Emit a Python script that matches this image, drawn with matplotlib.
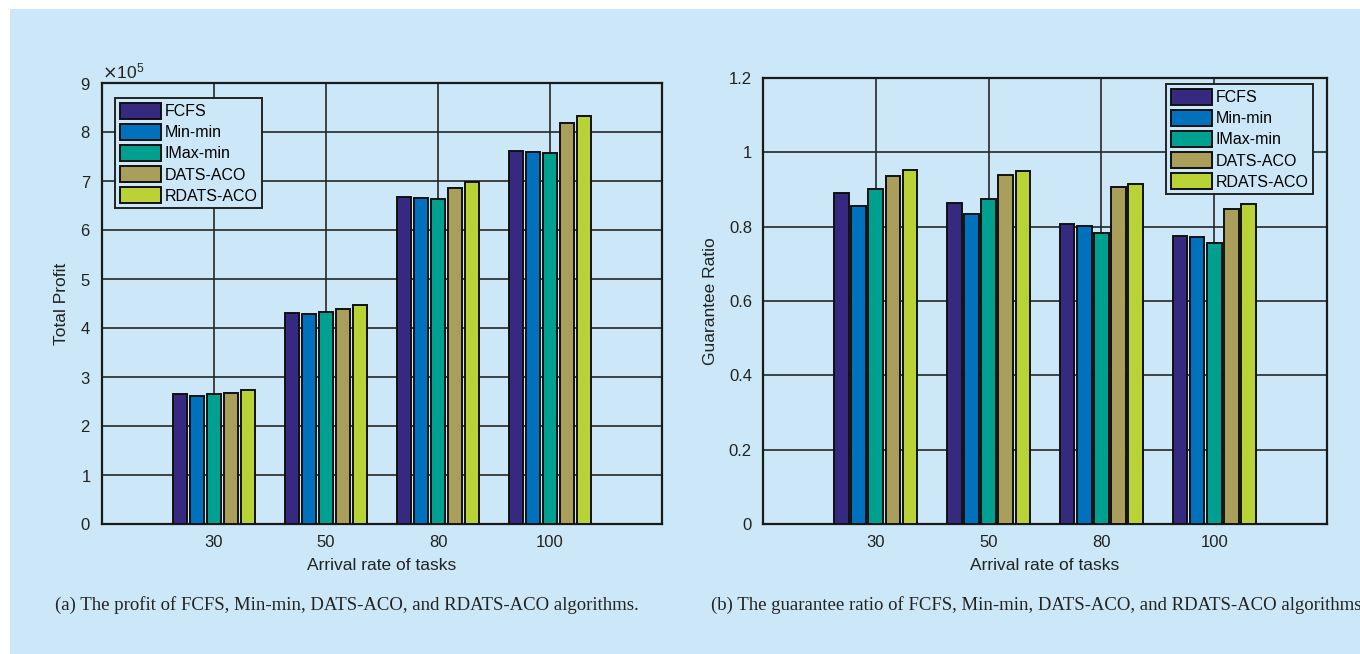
import numpy as np
import matplotlib
matplotlib.use("Agg")
import matplotlib.pyplot as plt

# data
rates = ["30", "50", "80", "100"]
algos = ["FCFS", "Min-min", "IMax-min", "DATS-ACO", "RDATS-ACO"]
colors = ["#352a80", "#0072bd", "#00a090", "#aa9f5a", "#b9d235"]

profit_fcfs = [2.645e5, 4.30e5, 6.68e5, 7.61e5]
profit_minmin = [2.62e5, 4.28e5, 6.66e5, 7.59e5]
profit_imaxmin = [2.645e5, 4.32e5, 6.64e5, 7.57e5]
profit_dats = [2.665e5, 4.38e5, 6.86e5, 8.19e5]
profit_rdats = [2.73e5, 4.47e5, 6.98e5, 8.33e5]

ratio_fcfs = [0.890, 0.865, 0.807, 0.776]
ratio_minmin = [0.855, 0.834, 0.801, 0.772]
ratio_imaxmin = [0.901, 0.875, 0.783, 0.757]
ratio_dats = [0.935, 0.940, 0.908, 0.848]
ratio_rdats = [0.953, 0.950, 0.915, 0.861]

profit = [profit_fcfs, profit_minmin, profit_imaxmin, profit_dats, profit_rdats]
ratio = [ratio_fcfs, ratio_minmin, ratio_imaxmin, ratio_dats, ratio_rdats]

bg = "#cce8f8"
plt.rcParams["font.family"] = ["Liberation Sans", "DejaVu Sans"]

W, H = 1360, 654
fig = plt.figure(figsize=(W / 100, H / 100), dpi=100)
fig.patch.set_facecolor("white")
# light blue panel, white strip on top and left
fig.patches.append(plt.Rectangle((10 / W, 0), 1, 1 - 9 / H, transform=fig.transFigure,
                                 facecolor=bg, edgecolor="none", zorder=-10))


def make_axes(left, top, right, bottom):
    return fig.add_axes([left / W, 1 - bottom / H, (right - left) / W, (bottom - top) / H])


def draw(ax, series, ylim, yticks, ylabel, legend_loc, anchor):
    ax.set_facecolor("none")
    x = np.arange(1, len(rates) + 1)
    step, width = 0.152, 0.13
    for i, (vals, c, name) in enumerate(zip(series, colors, algos)):
        ax.bar(x + (i - 2) * step, vals, width, color=c, edgecolor="#111111",
               linewidth=1.4, label=name, zorder=3)
    ax.set_xlim(0, 5)
    ax.set_ylim(*ylim)
    ax.set_xticks(x)
    ax.set_xticklabels(rates)
    ax.set_yticks(yticks)
    ax.grid(True, color="#262626", linewidth=1.2, zorder=0)
    ax.set_axisbelow(True)
    ax.tick_params(length=0, labelsize=12, pad=8, colors="#222222")
    for s in ax.spines.values():
        s.set_linewidth(1.6)
        s.set_color("#1a1a1a")
    ax.set_xlabel("Arrival rate of tasks", fontsize=12.5, color="#222222", labelpad=6)
    ax.set_ylabel(ylabel, fontsize=12.5, color="#222222", labelpad=8)
    leg = ax.legend(loc=legend_loc, bbox_to_anchor=anchor, fontsize=11.5, frameon=True,
                    fancybox=False, handlelength=2.6, handleheight=1.2, handletextpad=0.2,
                    labelspacing=0.28, borderpad=0.3, borderaxespad=0)
    leg.get_frame().set_edgecolor("#222222")
    leg.get_frame().set_linewidth(1.4)
    leg.get_frame().set_facecolor(bg)
    leg.get_frame().set_alpha(1)
    leg.set_zorder(5)
    return ax


ax1 = make_axes(102, 83, 662, 524)
draw(ax1, profit, (0, 9e5), np.arange(0, 10) * 1e5, "Total Profit", "upper left",
     (13 / 560, 1 - 15 / 441))
ax1.ticklabel_format(axis="y", style="sci", scilimits=(5, 5), useMathText=True)
ax1.yaxis.get_offset_text().set_fontsize(12.5)
ax1.yaxis.get_offset_text().set_color("#222222")

ax2 = make_axes(763, 78, 1327, 524)
draw(ax2, ratio, (0, 1.2), [0, 0.2, 0.4, 0.6, 0.8, 1.0, 1.2], "Guarantee Ratio", "upper right",
     (1 - 14 / 564, 1 - 6 / 446))
ax2.set_yticklabels(["0", "0.2", "0.4", "0.6", "0.8", "1", "1.2"])

cap = dict(fontsize=13.5, family=["Liberation Serif", "DejaVu Serif"], color="#222222",
           va="center", transform=fig.transFigure)
fig.text(347 / W, 1 - 605 / H,
         "(a) The profit of FCFS, Min-min, DATS-ACO, and RDATS-ACO algorithms.",
         ha="center", **cap)
fig.text(711 / W, 1 - 605 / H,
         "(b) The guarantee ratio of FCFS, Min-min, DATS-ACO, and RDATS-ACO algorithms",
         ha="left", **cap)

fig.savefig("out.png", dpi=100, facecolor=fig.get_facecolor())
